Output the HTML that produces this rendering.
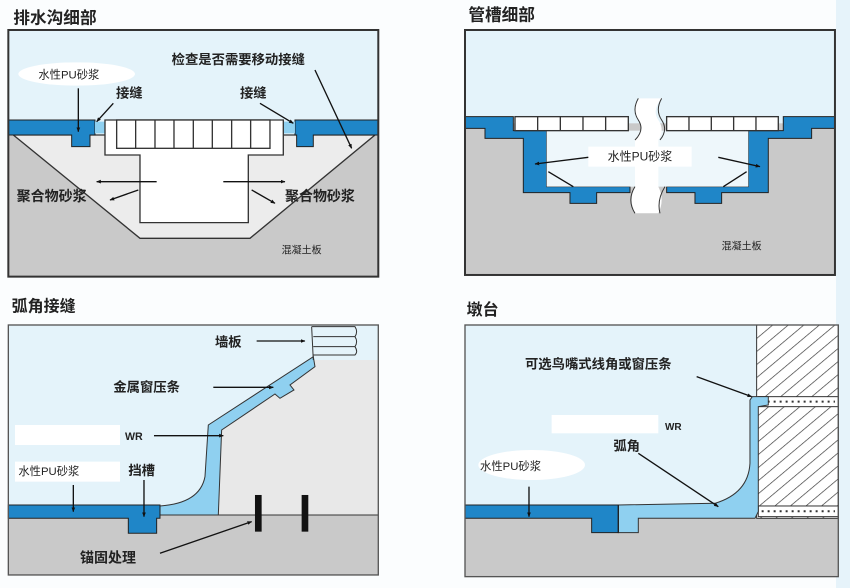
<!DOCTYPE html>
<html><head><meta charset="utf-8"><style>
html,body{margin:0;padding:0;background:#fbfdfe;}
svg{display:block;}
text{font-family:"Liberation Sans","Noto Sans CJK SC",sans-serif;fill:#222;}
.b{font-weight:bold;}
</style></head><body>
<svg width="850" height="588" viewBox="0 0 850 588" xmlns="http://www.w3.org/2000/svg">
<defs>
<marker id="ar" viewBox="0 0 10 10" refX="9" refY="5" markerWidth="14" markerHeight="14" markerUnits="userSpaceOnUse" orient="auto"><path d="M0,1 L10,5 L0,9 z" fill="#111"/></marker>
<pattern id="hatch" patternUnits="userSpaceOnUse" width="30" height="30" patternTransform="rotate(-40)"><rect width="30" height="30" fill="#fff"/><line x1="0" y1="0" x2="30" y2="0" stroke="#333" stroke-width="4"/></pattern>
</defs>
<rect width="850" height="588" fill="#fbfdfe"/>
<rect x="836" y="0" width="14" height="588" fill="#e6f3fa"/>

<!-- Panel 1 -->
<g transform="scale(0.3333)">
<text x="40" y="70" font-size="50" class="b" fill="#333">排水沟细部</text>
<rect x="25" y="90" width="1110" height="740" fill="#e4f3fa"/>
<rect x="25" y="405" width="1110" height="425" fill="#c9c9c9"/>
<polygon points="40,405 420,715 750,715 1125,405" fill="#ececec" stroke="#333" stroke-width="4"/>
<polygon points="25,360 285,360 285,405 270,405 270,440 215,440 215,405 25,405" fill="#1f86c8" stroke="#222" stroke-width="3"/>
<polygon points="885,360 1135,360 1135,405 940,405 940,440 890,440 890,405 885,405" fill="#1f86c8" stroke="#222" stroke-width="3"/>
<rect x="285" y="365" width="30" height="35" fill="#8fd0f0"/>
<rect x="850" y="365" width="35" height="35" fill="#8fd0f0"/>
<polygon points="315,360 850,360 850,465 745,465 745,668 420,668 420,465 315,465" fill="#fff" stroke="#333" stroke-width="4"/>
<rect x="350" y="360" width="460" height="85" fill="#fff" stroke="#333" stroke-width="4"/>
<g stroke="#333" stroke-width="4">
<line x1="407" y1="360" x2="407" y2="445"/><line x1="465" y1="360" x2="465" y2="445"/><line x1="522" y1="360" x2="522" y2="445"/><line x1="580" y1="360" x2="580" y2="445"/><line x1="637" y1="360" x2="637" y2="445"/><line x1="695" y1="360" x2="695" y2="445"/><line x1="752" y1="360" x2="752" y2="445"/>
</g>
<g stroke="#111" stroke-width="4" marker-end="url(#ar)">
<line x1="470" y1="545" x2="290" y2="545"/><line x1="415" y1="570" x2="330" y2="600"/>
<line x1="670" y1="545" x2="855" y2="545"/><line x1="755" y1="570" x2="825" y2="610"/>
<line x1="945" y1="210" x2="1055" y2="445"/>
<line x1="340" y1="310" x2="290" y2="365"/><line x1="780" y1="310" x2="880" y2="370"/>
<line x1="235" y1="265" x2="235" y2="395"/>
</g>
<ellipse cx="230" cy="222" rx="175" ry="35" fill="#fff"/>
<text x="115" y="235" font-size="34">水性PU砂浆</text>
<text x="348" y="293" font-size="40" class="b">接缝</text>
<text x="720" y="293" font-size="40" class="b">接缝</text>
<text x="515" y="192" font-size="40" class="b">检查是否需要移动接缝</text>
<text x="50" y="603" font-size="42" class="b" fill="#333">聚合物砂浆</text>
<text x="855" y="603" font-size="42" class="b" fill="#333">聚合物砂浆</text>
<text x="845" y="760" font-size="30" fill="#333">混凝土板</text>
<rect x="25" y="90" width="1110" height="740" fill="none" stroke="#333" stroke-width="6"/>
</g>

<!-- Panel 2 -->
<g transform="translate(425,0) scale(0.3333)">
<text x="130" y="62" font-size="50" class="b" fill="#333">管槽细部</text>
<rect x="120" y="90" width="1110" height="735" fill="#e4f3fa"/>
<rect x="120" y="370" width="1110" height="455" fill="#c9c9c9"/>
<polygon points="120,350 265,350 265,392 365,392 365,560 615,560 615,578 515,578 515,610 435,610 435,578 295,578 295,415 180,415 180,385 120,385" fill="#1f86c8" stroke="#222" stroke-width="3"/>
<polygon points="1230,350 1075,350 1075,392 970,392 970,560 725,560 725,578 810,578 810,610 890,610 890,578 1030,578 1030,415 1160,415 1160,385 1230,385" fill="#1f86c8" stroke="#222" stroke-width="3"/>
<rect x="365" y="392" width="605" height="168" fill="#eef7fb"/>
<rect x="270" y="350" width="340" height="42" fill="#fff" stroke="#333" stroke-width="4"/>
<rect x="725" y="350" width="335" height="42" fill="#fff" stroke="#333" stroke-width="4"/>
<g stroke="#333" stroke-width="4">
<line x1="338" y1="350" x2="338" y2="392"/><line x1="406" y1="350" x2="406" y2="392"/><line x1="474" y1="350" x2="474" y2="392"/><line x1="542" y1="350" x2="542" y2="392"/>
<line x1="792" y1="350" x2="792" y2="392"/><line x1="859" y1="350" x2="859" y2="392"/><line x1="926" y1="350" x2="926" y2="392"/><line x1="993" y1="350" x2="993" y2="392"/>
</g>
<path d="M640,295 Q620,330 640,360 Q660,390 630,420 L630,560 Q610,600 630,640 L700,640 Q720,600 700,560 L700,420 Q720,390 700,360 Q680,330 710,295 Z" fill="#fff"/>
<path d="M640,295 Q620,330 640,360 Q660,390 630,420 M710,295 Q690,330 710,360 Q730,390 705,420 M630,560 Q605,600 630,640 M720,560 Q695,600 705,640" stroke="#333" stroke-width="3" fill="none"/>
<rect x="490" y="440" width="310" height="60" fill="#fff"/>
<g stroke="#111" stroke-width="4">
<line x1="490" y1="472" x2="330" y2="492" marker-end="url(#ar)"/>
<line x1="880" y1="472" x2="1005" y2="500" marker-end="url(#ar)"/>
<line x1="370" y1="515" x2="445" y2="560"/><line x1="965" y1="515" x2="895" y2="560"/>
</g>
<text x="548" y="482" font-size="36">水性PU砂浆</text>
<text x="890" y="748" font-size="30" fill="#333">混凝土板</text>
<rect x="120" y="90" width="1110" height="735" fill="none" stroke="#333" stroke-width="6"/>
</g>

<!-- Panel 3 -->
<g transform="translate(0,290) scale(0.3333)">
<text x="35" y="65" font-size="48" class="b" fill="#333">弧角接缝</text>
<rect x="25" y="105" width="1110" height="750" fill="#e4f3fa"/>
<polygon points="655,675 660,420 945,210 1135,210 1135,675" fill="#e8e8e8"/>
<rect x="25" y="675" width="1110" height="180" fill="#c9c9c9"/>
<line x1="25" y1="675" x2="1135" y2="675" stroke="#333" stroke-width="3"/>
<path d="M480,648 Q600,640 615,560 L625,405 L940,200 L945,230 L870,285 L882,300 L840,325 L825,312 L665,420 L655,675 L480,675 Z" fill="#8fd0f0" stroke="#333" stroke-width="3"/>
<polygon points="25,645 480,645 480,685 470,685 470,730 385,730 385,685 25,685" fill="#1f86c8" stroke="#222" stroke-width="3"/>
<path d="M935,110 L1065,110 Q1075,125 1065,140 L940,140 M940,140 L1065,140 Q1075,155 1065,170 L940,170 M940,170 L1065,170 Q1075,185 1065,195 L940,195 M935,110 L940,210" stroke="#333" stroke-width="3" fill="none"/>
<rect x="765" y="615" width="20" height="110" fill="#111"/>
<rect x="905" y="615" width="20" height="110" fill="#111"/>
<g stroke="#111" stroke-width="4" marker-end="url(#ar)">
<line x1="770" y1="153" x2="915" y2="153"/>
<line x1="640" y1="292" x2="820" y2="292"/>
<line x1="462" y1="437" x2="670" y2="437"/>
<line x1="220" y1="585" x2="220" y2="665"/>
<line x1="432" y1="570" x2="432" y2="680"/>
<line x1="480" y1="790" x2="755" y2="695"/>
</g>
<rect x="45" y="405" width="315" height="60" fill="#fff"/>
<rect x="45" y="515" width="315" height="60" fill="#fff"/>
<text x="645" y="170" font-size="40" class="b">墙板</text>
<text x="340" y="305" font-size="40" class="b">金属窗压条</text>
<text x="375" y="450" font-size="32" class="b">WR</text>
<text x="55" y="555" font-size="34">水性PU砂浆</text>
<text x="385" y="555" font-size="40" class="b">挡槽</text>
<text x="240" y="818" font-size="42" class="b">锚固处理</text>
<rect x="25" y="105" width="1110" height="750" fill="none" stroke="#555" stroke-width="4"/>
</g>

<!-- Panel 4 -->
<g transform="translate(425,290) scale(0.3333)">
<text x="125" y="75" font-size="48" class="b" fill="#333">墩台</text>
<rect x="120" y="105" width="1120" height="755" fill="#e4f3fa"/>
<rect x="120" y="685" width="1120" height="175" fill="#c9c9c9"/>
<rect x="995" y="105" width="245" height="580" fill="url(#hatch)" stroke="#333" stroke-width="3"/>
<rect x="1000" y="320" width="240" height="30" fill="#fff" stroke="#333" stroke-width="3"/>
<rect x="1000" y="648" width="240" height="32" fill="#fff" stroke="#333" stroke-width="3"/>
<line x1="1010" y1="335" x2="1230" y2="335" stroke="#333" stroke-width="6" stroke-dasharray="6,12"/>
<line x1="1010" y1="664" x2="1230" y2="664" stroke="#333" stroke-width="6" stroke-dasharray="6,12"/>
<path d="M580,645 L870,640 Q970,610 975,520 L975,330 L982,320 L1030,320 L1030,345 L1000,350 L1000,665 L990,685 L640,685 L640,728 L580,728 Z" fill="#8fd0f0" stroke="#333" stroke-width="3"/>
<polygon points="120,645 580,645 580,728 500,728 500,685 120,685" fill="#1f86c8" stroke="#222" stroke-width="3"/>
<line x1="580" y1="645" x2="580" y2="728" stroke="#222" stroke-width="4"/>
<rect x="380" y="375" width="320" height="55" fill="#fff"/>
<ellipse cx="320" cy="525" rx="160" ry="45" fill="#fff"/>
<g stroke="#111" stroke-width="4" marker-end="url(#ar)">
<line x1="815" y1="260" x2="980" y2="320"/>
<line x1="640" y1="490" x2="880" y2="650"/>
<line x1="312" y1="590" x2="312" y2="680"/>
</g>
<text x="300" y="235" font-size="40" class="b">可选鸟嘴式线角或窗压条</text>
<text x="720" y="420" font-size="30" class="b">WR</text>
<text x="565" y="482" font-size="40" class="b">弧角</text>
<text x="165" y="540" font-size="34">水性PU砂浆</text>
<rect x="120" y="105" width="1120" height="755" fill="none" stroke="#555" stroke-width="4"/>
</g>
</svg>
</body></html>
